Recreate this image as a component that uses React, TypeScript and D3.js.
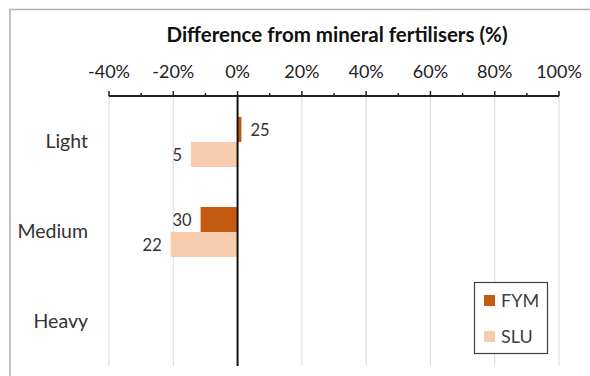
import React from "react";
import * as d3 from "d3";

const categories = ["Light", "Medium", "Heavy"];
const seriesNames = ["FYM", "SLU"];
const fymValues: (number | null)[] = [1.2, -11.5, null];
const sluValues: (number | null)[] = [-14.5, -20.8, null];
const fymLabels = ["25", "30", ""];
const sluLabels = ["5", "22", ""];
const tickValues = [-40, -20, 0, 20, 40, 60, 80, 100];
const minorTickValues = [-30, -10, 10, 30, 50, 70, 90];
const title = "Difference from mineral fertilisers (%)";

const W = 590;
const H = 376;
const colors = ["#c55a11", "#f8cbad"];
const font = "Lato, 'Open Sans', sans-serif";

export default function App() {
  const x = d3.scaleLinear().domain([-40, 100]).range([109, 559]);
  const y = d3.scaleBand<string>().domain(categories).range([97, 367]);
  const axisY = 96;
  const barH = 25;
  const series = [fymValues, sluValues];
  const labels = [fymLabels, sluLabels];

  return (
    <svg width={W} height={H} style={{ position: "absolute", left: 0, top: 0 }} fontFamily={font}>
      <rect x={0} y={0} width={W} height={H} fill="#fff" />
      <rect x={10} y={9.5} width={W + 10} height={H + 10} fill="none" stroke="#b0b0b0" strokeWidth={1.5} />
      <text x={337} y={42} textAnchor="middle" fontSize={20.5} fontWeight="bold" fill="#111">{title}</text>
      {tickValues.map((t) => (
        <g key={"t" + t}>
          {t !== 0 && (
            <line x1={x(t)} x2={x(t)} y1={axisY} y2={366} stroke="#d9d9d9" strokeWidth={1} />
          )}
          <line x1={x(t)} x2={x(t)} y1={axisY - 5} y2={axisY} stroke="#222" strokeWidth={1.5} />
          <text x={x(t)} y={78} textAnchor="middle" fontSize={18} fill="#222">{t + "%"}</text>
        </g>
      ))}
      {minorTickValues.map((t) => (
        <line key={"m" + t} x1={x(t)} x2={x(t)} y1={axisY - 3} y2={axisY} stroke="#222" strokeWidth={1.5} />
      ))}
      <line x1={x(-40)} x2={x(100)} y1={axisY} y2={axisY} stroke="#222" strokeWidth={2} />
      {categories.map((c, i) => {
        const cy = (y(c) as number) + y.bandwidth() / 2;
        return (
          <g key={c}>
            <text x={88} y={cy + 6} textAnchor="end" fontSize={19.5} fill="#333">{c}</text>
            {series.map((vals, s) => {
              const v = vals[i];
              if (v === null) return null;
              const by = cy - barH + s * barH;
              const x0 = x(Math.min(0, v));
              const x1 = x(Math.max(0, v));
              const end = x(v);
              const lab = labels[s][i];
              return (
                <g key={s}>
                  <rect x={x0} y={by} width={x1 - x0} height={barH} fill={colors[s]} />
                  {lab && (
                    <text
                      x={v >= 0 ? end + 9 : end - 9}
                      y={by + barH / 2 + 6}
                      textAnchor={v >= 0 ? "start" : "end"}
                      fontSize={16.5}
                      fill="#333"
                    >
                      {lab}
                    </text>
                  )}
                </g>
              );
            })}
          </g>
        );
      })}
      <line x1={x(0)} x2={x(0)} y1={axisY} y2={366} stroke="#111" strokeWidth={2} />
      <rect x={474.5} y={282.5} width={73} height={71} fill="#fff" stroke="#404040" strokeWidth={1.2} />
      {seriesNames.map((n, i) => (
        <g key={n}>
          <rect x={484} y={295 + i * 36} width={11} height={11} fill={colors[i]} />
          <text x={501} y={307 + i * 36} fontSize={18} fill="#404040">{n}</text>
        </g>
      ))}
    </svg>
  );
}
